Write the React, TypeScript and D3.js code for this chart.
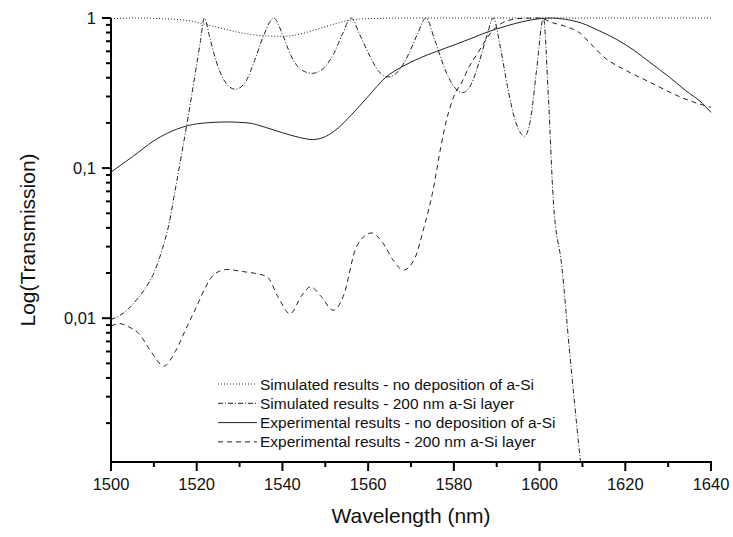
import { useMemo } from "react";
import * as d3 from "d3";

const W = 733;
const H = 537;
const MARGIN = { top: 18, right: 22, bottom: 75, left: 111 };

const xTicks = [1500, 1520, 1540, 1560, 1580, 1600, 1620, 1640];
const yTicks = [1, 0.1, 0.01];
const yTickLabels = ["1", "0,1", "0,01"];

// simulated, no deposition (dotted)
const simNoDepW = [1500, 1506, 1512, 1518, 1524, 1530, 1536, 1540, 1544, 1548, 1552, 1556, 1560, 1570, 1580, 1600, 1620, 1640];
const simNoDepV = [0.99, 1.0, 0.99, 0.96, 0.88, 0.8, 0.76, 0.755, 0.78, 0.84, 0.91, 0.97, 0.99, 1.0, 1.0, 1.0, 1.0, 1.0];

// simulated, 200 nm a-Si (dash-dot)
const simSiW = [1500, 1502, 1504, 1506, 1508, 1510, 1512, 1513.5, 1515, 1516.5, 1518, 1519.5, 1520.8, 1521.8,
  1523, 1524.5, 1526.5, 1529, 1531.5, 1533.5, 1535.5, 1538,
  1540, 1542, 1544.5, 1547, 1549.5, 1552, 1554, 1556,
  1558, 1560.5, 1562.5, 1564.7, 1567, 1569.5, 1571.5, 1573.5,
  1575.5, 1578, 1580, 1582, 1584, 1586, 1587.8, 1589.2,
  1590.8, 1592.5, 1594.5, 1596.5, 1598, 1599.3, 1600.9,
  1602.1, 1603.2, 1605.2, 1607, 1609.5, 1610.5];
const simSiV = [0.0098, 0.0104, 0.0115, 0.0133, 0.0158, 0.02, 0.029, 0.042, 0.072, 0.125, 0.22, 0.4, 0.68, 1.0,
  0.75, 0.52, 0.38, 0.335, 0.38, 0.52, 0.75, 1.0,
  0.78, 0.56, 0.45, 0.428, 0.46, 0.58, 0.78, 1.0,
  0.78, 0.55, 0.44, 0.405, 0.44, 0.58, 0.78, 1.0,
  0.72, 0.45, 0.35, 0.318, 0.36, 0.52, 0.78, 1.0,
  0.65, 0.35, 0.2, 0.163, 0.22, 0.45, 1.0,
  0.28, 0.061, 0.022, 0.006, 0.00113, 0.0006];

// experimental, no deposition (solid)
const expNoDepW = [1500, 1505, 1510, 1513, 1518, 1522, 1527, 1532, 1536, 1540, 1544, 1547, 1550, 1553, 1556, 1560, 1564, 1568, 1572, 1576, 1580, 1584, 1588, 1592, 1596, 1600, 1603, 1606, 1610, 1614, 1618, 1622, 1626, 1630, 1634, 1638, 1640];
const expNoDepV = [0.094, 0.119, 0.152, 0.17, 0.192, 0.2, 0.203, 0.2, 0.187, 0.172, 0.16, 0.155, 0.162, 0.185, 0.225, 0.3, 0.4, 0.475, 0.54, 0.6, 0.66, 0.73, 0.81, 0.88, 0.945, 0.99, 1.0, 0.98, 0.92, 0.82, 0.72, 0.61, 0.5, 0.41, 0.33, 0.27, 0.235];

// experimental, 200 nm a-Si (dashed)
const expSiW = [1500, 1502, 1504, 1506.5, 1509.5, 1512.3, 1515, 1517.5, 1520, 1522, 1524, 1527, 1531, 1534, 1536.5, 1539, 1541.8, 1544.5, 1546.6, 1548.8, 1551.9, 1554.2, 1557.3, 1560.8, 1563.5, 1566, 1568.2, 1571, 1573, 1575, 1577, 1578.3, 1580, 1582, 1583.5, 1585.5, 1589, 1592.5, 1596, 1600, 1603, 1606, 1609.5, 1612, 1615, 1620, 1626, 1632, 1636, 1640];
const expSiV = [0.0089, 0.0092, 0.0088, 0.0079, 0.0059, 0.0048, 0.006, 0.0085, 0.012, 0.016, 0.0195, 0.0211, 0.0204, 0.0198, 0.0188, 0.0138, 0.0107, 0.0142, 0.0162, 0.0142, 0.0113, 0.014, 0.03, 0.037, 0.0315, 0.024, 0.0209, 0.0255, 0.04, 0.068, 0.14, 0.21, 0.3, 0.38, 0.47, 0.58, 0.82, 0.96, 0.995, 1.0, 0.93, 0.88, 0.79, 0.67, 0.55, 0.45, 0.37, 0.305, 0.275, 0.254];

const seriesNames = [
  "Simulated results - no deposition of a-Si",
  "Simulated results - 200 nm a-Si layer",
  "Experimental results - no deposition of a-Si",
  "Experimental results - 200 nm a-Si layer",
];
const dashes = ["1,2", "5,2,1,2", "", "5,4"];

const FONT = "Arial, 'Liberation Sans', sans-serif";

export default function App() {
  const innerW = W - MARGIN.left - MARGIN.right;
  const innerH = H - MARGIN.top - MARGIN.bottom;

  const x = useMemo(() => d3.scaleLinear().domain([1500, 1640]).range([MARGIN.left, MARGIN.left + innerW]), [innerW]);
  const y = useMemo(() => d3.scaleLog().domain([Math.pow(10, -2.958), 1]).range([MARGIN.top + innerH, MARGIN.top]), [innerH]);

  const series = [
    simNoDepW.map((w, i) => [w, simNoDepV[i]]),
    simSiW.map((w, i) => [w, simSiV[i]]),
    expNoDepW.map((w, i) => [w, expNoDepV[i]]),
    expSiW.map((w, i) => [w, expSiV[i]]),
  ] as [number, number][][];

  const line = d3
    .line<[number, number]>()
    .x((d) => x(d[0]))
    .y((d) => y(d[1]))
    .curve(d3.curveMonotoneX);

  const x0 = MARGIN.left;
  const yBase = MARGIN.top + innerH;

  const xMinor = d3.range(1510, 1640, 20);
  const yMinor: number[] = [];
  [0.1, 0.01, 0.001].forEach((dec) => {
    for (let k = 2; k <= 9; k++) {
      const v = dec * k;
      if (v >= y.domain()[0] && v < 1) yMinor.push(v);
    }
  });

  const legX = 218;
  const legY = 384;
  const legStep = 19.3;

  return (
    <svg width={W} height={H} style={{ position: "absolute", left: 0, top: 0, background: "#fff" }}>
      <defs>
        <clipPath id="plot-clip">
          <rect x={x0} y={MARGIN.top - 4} width={innerW + 2} height={innerH + 4} />
        </clipPath>
      </defs>

      <g clipPath="url(#plot-clip)">
        {series.map((s, i) => (
          <path
            key={i}
            d={line(s) || ""}
            fill="none"
            stroke="#222"
            strokeWidth={1}
            strokeDasharray={dashes[i] || undefined}
          />
        ))}
      </g>

      {/* axes */}
      <line x1={x0} x2={x0} y1={MARGIN.top} y2={yBase + 1} stroke="#000" strokeWidth={2} />
      <line x1={x0 - 1} x2={MARGIN.left + innerW + 1} y1={yBase} y2={yBase} stroke="#000" strokeWidth={2} />

      {xTicks.map((t) => (
        <g key={t}>
          <line x1={x(t)} x2={x(t)} y1={yBase} y2={yBase + 9} stroke="#000" strokeWidth={2} />
          <text x={x(t)} y={490} textAnchor="middle" fontSize={16.5} fontFamily={FONT} fill="#111">
            {t}
          </text>
        </g>
      ))}
      {xMinor.map((t) => (
        <line key={t} x1={x(t)} x2={x(t)} y1={yBase} y2={yBase + 5} stroke="#000" strokeWidth={2} />
      ))}

      {yTicks.map((t, i) => (
        <g key={t}>
          <line x1={x0} x2={x0 - 9} y1={y(t)} y2={y(t)} stroke="#000" strokeWidth={2} />
          <text x={96} y={y(t) + 6} textAnchor="end" fontSize={16.5} fontFamily={FONT} fill="#111">
            {yTickLabels[i]}
          </text>
        </g>
      ))}
      {yMinor.map((t) => (
        <line key={t} x1={x0} x2={x0 - 5} y1={y(t)} y2={y(t)} stroke="#000" strokeWidth={2} />
      ))}

      <text x={MARGIN.left + innerW / 2} y={523} textAnchor="middle" fontSize={21} fontFamily={FONT} fill="#111">
        Wavelength (nm)
      </text>
      <text
        transform={`translate(35, ${MARGIN.top + innerH / 2}) rotate(-90)`}
        textAnchor="middle"
        fontSize={21}
        fontFamily={FONT}
        fill="#111"
      >
        Log(Transmission)
      </text>

      {/* legend */}
      {seriesNames.map((name, i) => (
        <g key={name} transform={`translate(${legX}, ${legY + i * legStep})`}>
          <line x1={0} x2={39} y1={0} y2={0} stroke="#222" strokeWidth={1} strokeDasharray={dashes[i] || undefined} />
          <text x={42} y={5.5} fontSize={15.5} fontFamily={FONT} fill="#111">
            {name}
          </text>
        </g>
      ))}
    </svg>
  );
}
